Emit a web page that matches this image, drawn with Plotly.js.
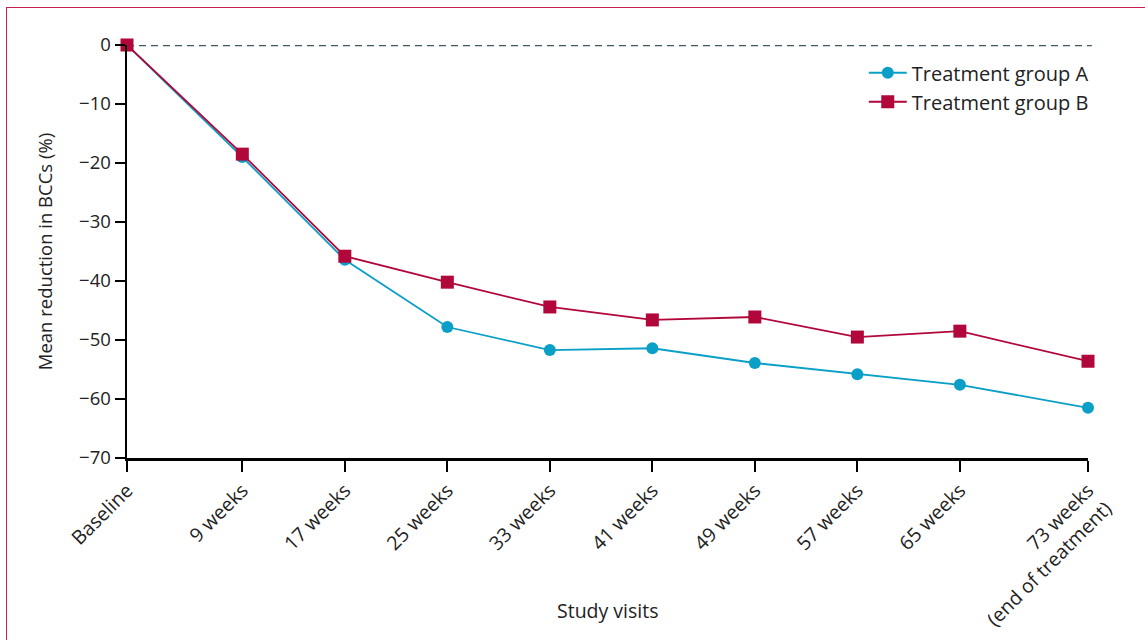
<!DOCTYPE html>
<html>
<head>
<meta charset="utf-8">
<script src="https://cdn.plot.ly/plotly-3.0.1.min.js"></script>
<style>
html,body{margin:0;padding:0;background:#fff;}
#frame{position:absolute;left:6px;top:7px;width:1139px;height:633px;border-top:1.5px solid #c8204e;border-left:1.5px solid #c8204e;box-sizing:border-box;}
#chart{position:absolute;left:0;top:0;width:1145px;height:640px;}
</style>
</head>
<body>
<div id="frame"></div>
<div id="chart"></div>
<script>
// Study visit positions (weeks) and labels
const visitWeeks = [0, 9, 17, 25, 33, 41, 49, 57, 65, 75];
const visitLabels = ["Baseline", "9 weeks", "17 weeks", "25 weeks", "33 weeks", "41 weeks", "49 weeks", "57 weeks", "65 weeks", "73 weeks<br>(end of treatment)"];
// Mean reduction in BCCs (%)
const groupA = [0, -19.0, -36.4, -47.8, -51.7, -51.4, -53.9, -55.8, -57.6, -61.5];
const groupB = [0, -18.5, -35.8, -40.2, -44.4, -46.6, -46.1, -49.5, -48.5, -53.6];
const yTicks = [0, -10, -20, -30, -40, -50, -60, -70];

const fontFam = "'Open Sans', 'Noto Sans', sans-serif";
const colA = "#0a9fc6", colB = "#b1073a";

const traces = [
  {x: visitWeeks, y: groupA, name: "Treatment group A", mode: "lines+markers",
   line: {color: colA, width: 1.8}, marker: {symbol: "circle", size: 12, color: colA}, cliponaxis: false},
  {x: visitWeeks, y: groupB, name: "Treatment group B", mode: "lines+markers",
   line: {color: colB, width: 1.8}, marker: {symbol: "square", size: 13, color: colB}, cliponaxis: false}
];

const layout = {
  width: 1145, height: 640,
  margin: {l: 127, r: 57, t: 45, b: 182},
  paper_bgcolor: "rgba(0,0,0,0)", plot_bgcolor: "rgba(0,0,0,0)",
  font: {family: fontFam, size: 18, color: "#222"},
  showlegend: true,
  legend: {x: 1.006, xanchor: "right", y: 0.98, yanchor: "top", bgcolor: "rgba(0,0,0,0)",
           font: {size: 20, color: "#222"}, tracegroupgap: 0, itemwidth: 38},
  xaxis: {range: [0, 75], tickvals: visitWeeks, ticktext: visitLabels, tickangle: -45,
          showgrid: false, zeroline: false, showline: true, linecolor: "#000", linewidth: 2.5,
          ticks: "outside", ticklen: 11, tickwidth: 2, tickcolor: "#000",
          tickfont: {size: 19.5, color: "#222"},
          title: {text: "", font: {size: 19, color: "#222"}}},
  yaxis: {range: [-70, 0], tickvals: yTicks, showgrid: false, zeroline: false,
          showline: true, linecolor: "#000", linewidth: 2.5,
          ticks: "outside", ticklen: 10, tickwidth: 2, tickcolor: "#000",
          tickfont: {size: 18.5, color: "#222"},
          title: {text: "Mean reduction in BCCs (%)", font: {size: 18.5, color: "#222"}, standoff: 22}},
  annotations: [{text: "Study visits", xref: "paper", yref: "paper", x: 0.5, y: 0, yshift: -152,
                 xanchor: "center", yanchor: "middle", showarrow: false, font: {size: 19.5, color: "#222"}}],
  shapes: [{type: "line", xref: "paper", yref: "y", x0: 0, x1: 1.004, y0: 0, y1: 0,
            line: {color: "#405a64", width: 2.5, dash: "7px,5px"}, layer: "below"}]
};

Plotly.newPlot("chart", traces, layout, {displayModeBar: false, staticPlot: true});
</script>
</body>
</html>
